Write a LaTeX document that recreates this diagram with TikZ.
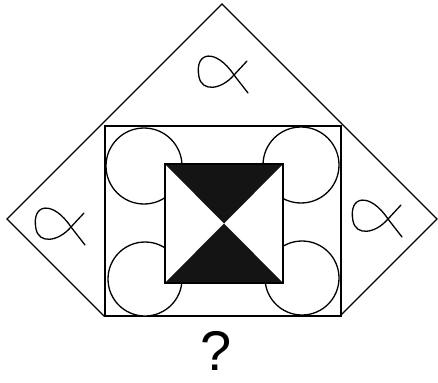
\documentclass[tikz,border=0pt]{standalone}
\usepackage{fontspec}
\setsansfont{Liberation Sans}
\usetikzlibrary{positioning}

\begin{document}
\begin{tikzpicture}[
    x=1pt, y=-1pt,
    % --- STYLES ---
    outline/.style={draw=black, line width=1.3pt, line join=miter},
    ring/.style={outline, fill=white},
    wedge/.style={fill=black!92},
    fish/.pic={
        \draw[outline, line cap=round]
            (14,18) -- (0,0) .. controls (-18,-27) and (-40,-24) .. (-35,2)
            .. controls (-32,17) and (-13,15) .. (0,0) -- (13,-14);
    }
]
\useasboundingbox (0,0) rectangle (438,382);

% ===== 1. OUTER SHAPES =====
\coordinate (apex) at (222,4);
\coordinate (lv) at (7,219);
\coordinate (rv) at (437,219);
\coordinate (bl) at (104,316);
\coordinate (br) at (340,316);
\draw[outline, fill=white] (apex) -- (rv) -- (br) -- (bl) -- (lv) -- cycle;
\draw[outline] (105,126) rectangle (341,316);

% ===== 2. SYMBOLS =====
\pic at (234,75) {fish};
\pic at (71,227) {fish};
\pic at (388,219) {fish};

% ===== 3. CIRCLES =====
\draw[ring] (144,166) circle (38);
\draw[ring] (301,165) circle (38);
\draw[ring] (145,279) circle (37);
\draw[ring] (302,278) circle (37);

% ===== 4. INNER SQUARE =====
\coordinate (sq1) at (165,164);
\coordinate (sq2) at (283,283);
\coordinate (mid) at (224,223.5);
\fill[white] (sq1) rectangle (sq2);
\fill[wedge] (sq1) -- (283,164) -- (mid) -- cycle;
\fill[wedge] (165,283) -- (sq2) -- (mid) -- cycle;
\draw[outline] (sq1) rectangle (sq2);

% ===== 5. QUESTION =====
\node[font=\sffamily\fontsize{56}{60}\selectfont] (quest) at (216,351) {?};

\end{tikzpicture}
\end{document}
